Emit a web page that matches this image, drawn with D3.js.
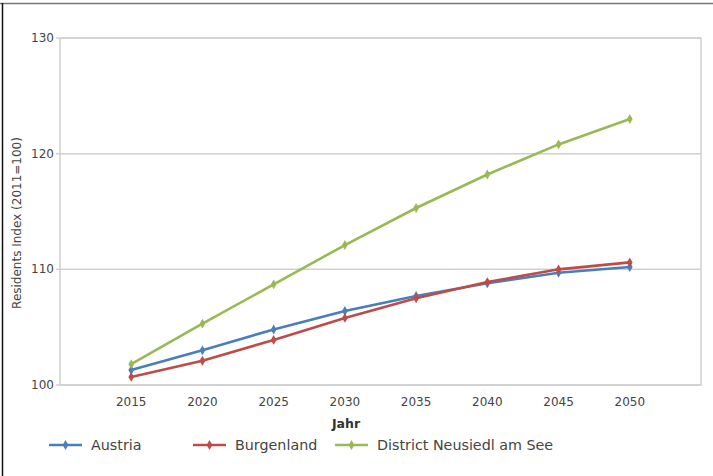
<!DOCTYPE html>
<html><head><meta charset="utf-8">
<script src="https://cdn.jsdelivr.net/npm/d3@7"></script>
<style>body{margin:0;background:#fff}svg{display:block}</style>
</head><body>
<svg id="c" width="713" height="476"></svg>
<script>
const years = [2015, 2020, 2025, 2030, 2035, 2040, 2045, 2050];
const austria = [101.3, 103.0, 104.8, 106.4, 107.7, 108.8, 109.7, 110.2];
const burgenland = [100.7, 102.1, 103.9, 105.8, 107.5, 108.9, 110.0, 110.6];
const neusiedl = [101.8, 105.3, 108.7, 112.1, 115.3, 118.2, 120.8, 123.0];
const yTicks = [100, 110, 120, 130];
const seriesNames = ["Austria", "Burgenland", "District Neusiedl am See"];
const seriesColors = ["#4a7ebb", "#be4b48", "#98b954"];
const seriesValues = [austria, burgenland, neusiedl];

const svg = d3.select("#c");
const font = "DejaVu Sans, Verdana, sans-serif";
const L = 60, R = 701, T = 38, B = 385;
const x = d3.scaleLinear().domain([2010, 2055]).range([L, R]);
const y = d3.scaleLinear().domain([100, 130]).range([B, T]);

// frame
svg.append("line").attr("x1",0).attr("x2",713).attr("y1",3.5).attr("y2",3.5).attr("stroke","#777").attr("stroke-width",1.5);
svg.append("line").attr("x1",2.5).attr("x2",2.5).attr("y1",3).attr("y2",476).attr("stroke","#111").attr("stroke-width",1.5);

// grid
svg.append("g").selectAll("line").data(yTicks).join("line")
  .attr("x1", L).attr("x2", R).attr("y1", d => y(d)).attr("y2", d => y(d))
  .attr("stroke", "#d0d0d0").attr("stroke-width", 1.5);
svg.append("rect").attr("x", L).attr("y", T).attr("width", R-L).attr("height", B-T)
  .attr("fill","none").attr("stroke","#d0d0d0").attr("stroke-width",1.5);
svg.append("g").selectAll("line").data(yTicks).join("line")
  .attr("x1", L-4).attr("x2", L).attr("y1", d => y(d)).attr("y2", d => y(d))
  .attr("stroke", "#d0d0d0").attr("stroke-width", 1.5);

// y labels
svg.append("g").selectAll("text").data(yTicks).join("text")
  .attr("x", L-6).attr("y", d => y(d)+4).attr("text-anchor","end")
  .attr("font-family", font).attr("font-size", 12).attr("fill","#444").text(d => d);
// x labels
svg.append("g").selectAll("text").data(years).join("text")
  .attr("x", d => x(d)).attr("y", 406).attr("text-anchor","middle")
  .attr("font-family", font).attr("font-size", 12).attr("fill","#444").text(d => d);

svg.append("text").attr("x", 346).attr("y", 428).attr("text-anchor","middle")
  .attr("font-family", font).attr("font-size", 12.5).attr("font-weight","bold").attr("fill","#333").text("Jahr");
svg.append("text").attr("transform","translate(21,223) rotate(-90)").attr("text-anchor","middle")
  .attr("font-family", font).attr("font-size", 12).attr("fill","#444").text("Residents Index (2011=100)");

// lines
const line = d3.line().x((d,i) => x(years[i])).y(d => y(d));
const diamond = d3.symbol().type(d3.symbolDiamond).size(28);
seriesValues.forEach((vals, k) => {
  const g = svg.append("g");
  g.append("path").attr("d", line(vals)).attr("fill","none")
    .attr("stroke", seriesColors[k]).attr("stroke-width", 2.6);
  g.selectAll("path.m").data(vals).join("path").attr("class","m")
    .attr("d", diamond).attr("transform", (d,i) => `translate(${x(years[i])},${y(d)})`)
    .attr("fill", seriesColors[k]);
});

// legend
const legX = [49, 193, 335];
seriesNames.forEach((n, k) => {
  const g = svg.append("g").attr("transform", `translate(${legX[k]},445)`);
  g.append("line").attr("x1",0).attr("x2",33).attr("stroke",seriesColors[k]).attr("stroke-width",2.6);
  g.append("path").attr("d", diamond).attr("transform","translate(16.5,0)").attr("fill",seriesColors[k]);
  g.append("text").attr("x", 42).attr("y", 5).attr("font-family", font).attr("font-size", 14.3)
    .attr("fill","#444").text(n);
});
</script>
</body></html>
